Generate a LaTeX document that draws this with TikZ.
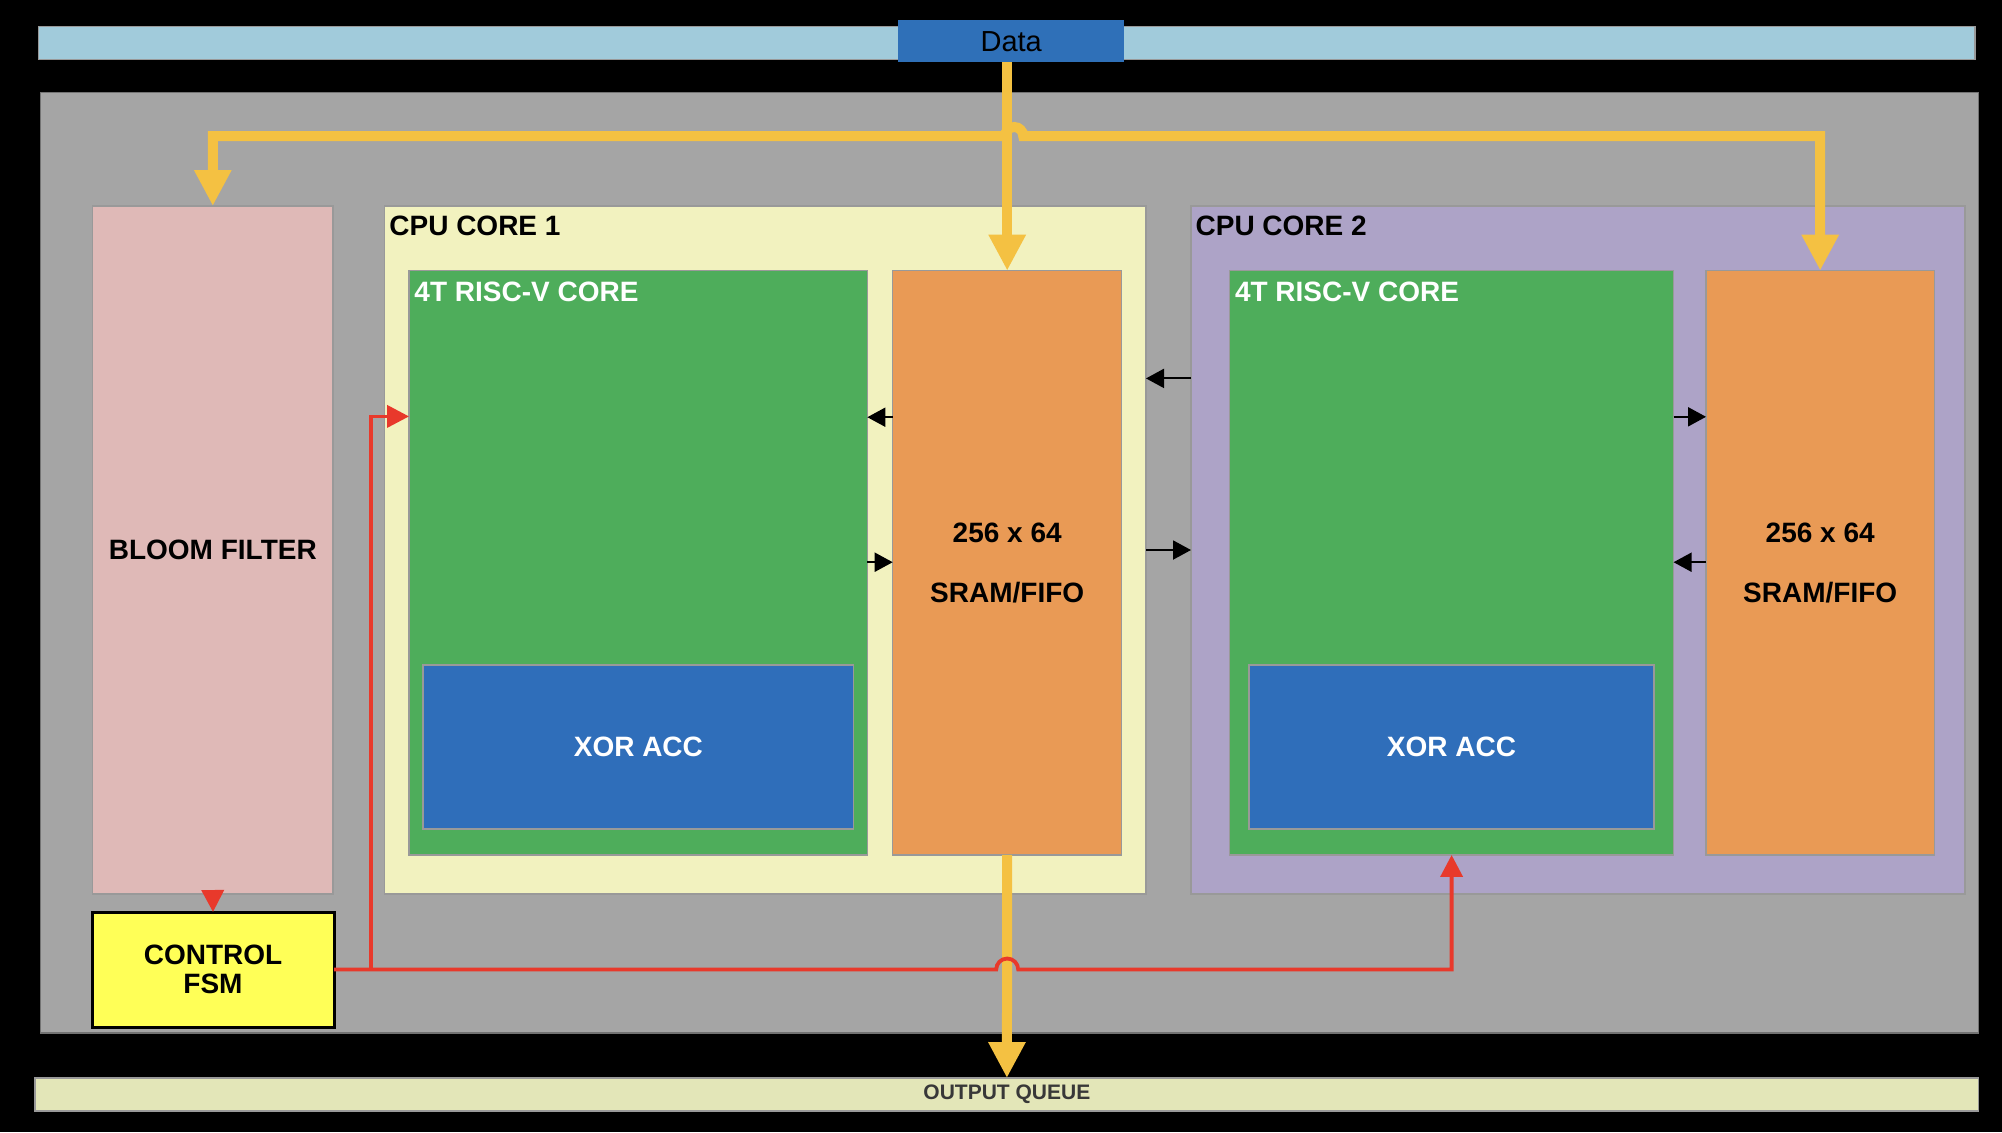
\documentclass[tikz,border=0pt]{standalone}
\usepackage{fontspec}
\setmainfont{Liberation Sans}
\usetikzlibrary{arrows.meta}

\definecolor{buscol}{HTML}{A1CBDB}
\definecolor{datacol}{HTML}{2F70B8}
\definecolor{chipcol}{HTML}{A5A5A5}
\definecolor{bloomcol}{HTML}{DFB9B7}
\definecolor{core1col}{HTML}{F2F2BF}
\definecolor{core2col}{HTML}{ADA3C7}
\definecolor{riscvcol}{HTML}{4EAD5B}
\definecolor{xorcol}{HTML}{2F6EBA}
\definecolor{sramcol}{HTML}{E99A55}
\definecolor{fsmcol}{HTML}{FFFF57}
\definecolor{queuecol}{HTML}{E3E6B8}
\definecolor{ylwcol}{HTML}{F4C142}
\definecolor{redcol}{HTML}{E8392B}

\tikzset{
  Yt/.tip={Triangle[width=17.5pt,length=18pt]},
  Rt/.tip={Triangle[width=11pt,length=11pt]},
  Kt/.tip={Triangle[width=9.5pt,length=9pt]}
}

\begin{document}
\begin{tikzpicture}[x=1pt, y=-1pt,
  blk/.style={rectangle, draw=black!40, line width=0.6pt, inner sep=0pt, outer sep=0pt,
    font=\fontsize{14}{30}\selectfont\bfseries, align=center},
  lbl/.style={anchor=base west, inner sep=0pt, font=\fontsize{14}{14}\selectfont\bfseries},
  ybus/.style={draw=ylwcol, line width=5pt},
  rbus/.style={draw=redcol, line width=1.9pt},
  ctl/.style={draw=black, line width=1pt, -Kt}]
\useasboundingbox (0,0) rectangle (1001,566);
\fill[black] (0,0) rectangle (1001,566);

% buses and chip
\node[blk, fill=buscol, minimum width=968.2pt, minimum height=16.3pt] (bus) at (503.4,21.5) {};
\node[blk, draw=datacol, fill=datacol, minimum width=112.25pt, minimum height=20.35pt,
  font=\fontsize{14.5}{14.5}\selectfont] (data) at (505.6,20.7) {Data};
\node[blk, draw=black!55, fill=chipcol, minimum width=969pt, minimum height=470.15pt] (chip) at (504.9,281.4) {};
\node[blk, fill=queuecol, minimum width=971.9pt, minimum height=16.5pt,
  font=\fontsize{10.5}{10.5}\selectfont\bfseries, text=black!78] (outq) at (503.45,547.25) {OUTPUT QUEUE};

% left column
\node[blk, fill=bloomcol, minimum width=120.2pt, minimum height=344pt] (bloom) at (106.4,275) {BLOOM FILTER};
\node[blk, draw=black, line width=1.5pt, fill=fsmcol, minimum width=121pt, minimum height=57.5pt,
  font=\fontsize{14}{14.5}\selectfont\bfseries] (fsm) at (106.5,484.75) {CONTROL\\FSM};

% cpu core 1
\node[blk, fill=core1col, minimum width=380.8pt, minimum height=344pt] (cpu1) at (382.6,275) {};
\node[blk, fill=riscvcol, minimum width=229.15pt, minimum height=292.15pt] (risc1) at (319.1,281.4) {};
\node[blk, fill=xorcol, text=white, minimum width=215.35pt, minimum height=82pt] (xor1) at (319.2,373.5) {XOR ACC};
\node[blk, fill=sramcol, minimum width=114.5pt, minimum height=292.15pt] (sram1) at (503.6,281.4) {256 x 64\\SRAM/FIFO};
\node[lbl] (lcpu1) at ([shift={(2.3,14.5)}]cpu1.north west) {CPU CORE 1};
\node[lbl, text=white] (lrisc1) at ([shift={(2.5,15.45)}]risc1.north west) {4T RISC-V CORE};

% cpu core 2
\node[blk, fill=core2col, minimum width=387pt, minimum height=344pt] (cpu2) at (789,275) {};
\node[blk, fill=riscvcol, minimum width=221.95pt, minimum height=292.15pt] (risc2) at (725.8,281.4) {};
\node[blk, fill=xorcol, text=white, minimum width=202.5pt, minimum height=82pt] (xor2) at (725.75,373.5) {XOR ACC};
\node[blk, fill=sramcol, minimum width=114.15pt, minimum height=292.15pt] (sram2) at (910.1,281.4) {256 x 64\\SRAM/FIFO};
\node[lbl] (lcpu2) at ([shift={(2.1,14.5)}]cpu2.north west) {CPU CORE 2};
\node[lbl, text=white] (lrisc2) at ([shift={(2.5,15.45)}]risc2.north west) {4T RISC-V CORE};

% data paths
\coordinate (split) at (sram1.north |- 0,68);
\draw[ybus, -Yt] (data.south -| sram1.north) -- (sram1.north);
\draw[ybus, Yt-Yt] (bloom.north) |- ([xshift=-1pt]split)
  arc[start angle=180, end angle=0, radius=4.5pt] -| (sram2.north);
\draw[ybus, -Yt] (sram1.south) -- (outq.north);

% local links
\draw[ctl] (sram1.west |- 0,208.6) -- (risc1.east |- 0,208.6);
\draw[ctl] (risc1.east |- 0,281.1) -- (sram1.west |- 0,281.1);
\draw[ctl] (cpu2.west |- 0,189.2) -- (cpu1.east |- 0,189.2);
\draw[ctl] (cpu1.east |- 0,275) -- (cpu2.west |- 0,275);
\draw[ctl] (risc2.east |- 0,208.4) -- (sram2.west |- 0,208.4);
\draw[ctl] (sram2.west |- 0,281.1) -- (risc2.east |- 0,281.1);

% control
\coordinate (hop) at (fsm.east -| sram1.south);
\coordinate (tap) at ([xshift=18.5pt]fsm.east);
\draw[rbus, -Rt] (bloom.south) -- (fsm.north);
\draw[rbus, -Rt] (fsm.east) -- ([xshift=-5.5pt]hop)
  arc[start angle=180, end angle=0, radius=5.5pt] -| (risc2.south);
\draw[rbus, -Rt] (tap) |- (risc1.west |- 0,208.2);
\end{tikzpicture}
\end{document}
